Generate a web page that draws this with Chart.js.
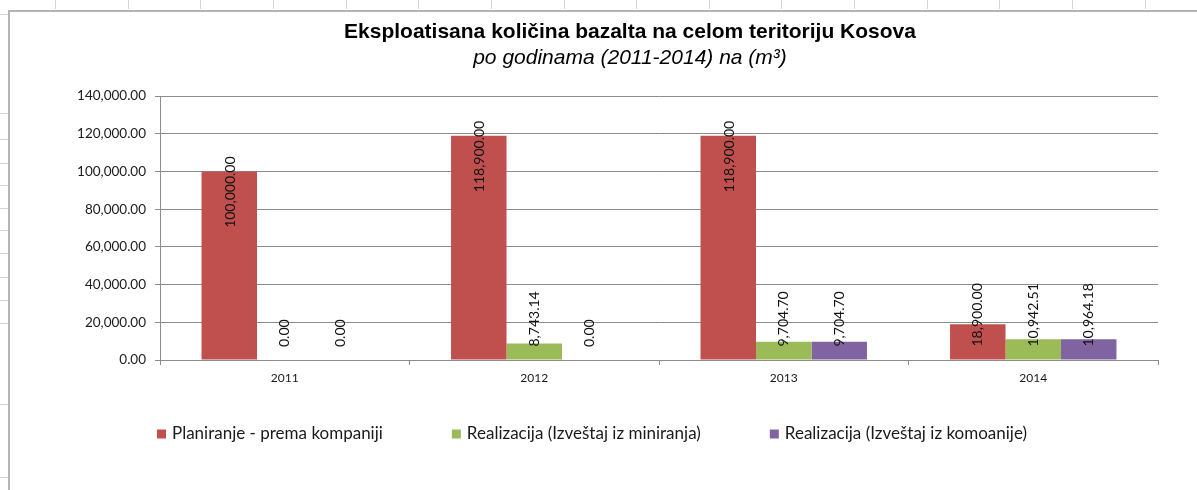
<!DOCTYPE html>
<html>
<head>
<meta charset="utf-8">
<script src="https://cdn.jsdelivr.net/npm/chart.js@4/dist/chart.umd.min.js"></script>
<style>
  html, body { margin: 0; padding: 0; background: #fff; }
  #wrap { width: 1197px; height: 490px; position: relative; }
</style>
</head>
<body>
<div id="wrap"><canvas id="c"></canvas></div>
<script>
// ---- data ----
const categories = ['2011', '2012', '2013', '2014'];
const planiranje = [100000.00, 118900.00, 118900.00, 18900.00];
const realizacijaMiniranje = [0.00, 8743.14, 9704.70, 10942.51];
const realizacijaKomoanije = [0.00, 0.00, 9704.70, 10964.18];
const seriesNames = [
  'Planiranje - prema kompaniji',
  'Realizacija (Izveštaj iz miniranja)',
  'Realizacija (Izveštaj iz komoanije)'
];
const seriesColors = ['#C0504D', '#9BBB59', '#8064A2'];
const yMax = 140000;
const yStep = 20000;
const titleText = 'Eksploatisana količina bazalta na celom teritoriju Kosova';
const subtitleText = 'po godinama (2011-2014) na (m³)';

const fmt = v => v.toLocaleString('en-US', { minimumFractionDigits: 2, maximumFractionDigits: 2 });
const LBL_FONT = 'Lato, "Open Sans", sans-serif';

// background frame (spreadsheet look)
const framePlugin = {
  id: 'frame',
  beforeDraw(chart) {
    const ctx = chart.ctx;
    ctx.save();
    ctx.fillStyle = '#fff';
    ctx.fillRect(0, 0, chart.width, chart.height);
    ctx.strokeStyle = '#d4d4d4';
    ctx.lineWidth = 1;
    for (let x = 55; x < chart.width; x += 72.65) {
      ctx.beginPath(); ctx.moveTo(Math.round(x) + 0.5, 0); ctx.lineTo(Math.round(x) + 0.5, 9); ctx.stroke();
    }
    [14, 113, 139, 163, 185, 208, 230, 253, 277, 300, 323, 404, 477].forEach(y => {
      ctx.beginPath(); ctx.moveTo(0, y + 0.5); ctx.lineTo(8, y + 0.5); ctx.stroke();
    });
    ctx.strokeStyle = '#b4b4b4';
    ctx.lineWidth = 2;
    ctx.beginPath();
    ctx.moveTo(9, chart.height);
    ctx.lineTo(9, 11);
    ctx.lineTo(chart.width, 11);
    ctx.stroke();
    ctx.restore();
  },
  // centre the title block over the whole chart frame like the spreadsheet does
  afterLayout(chart) {
    chart.boxes.forEach(b => {
      if (b.position === 'top' && b.options && b.options.text !== undefined) {
        b.left = 102;
      }
    });
  }
};

// rotated data labels
const labelPlugin = {
  id: 'barLabels',
  afterDatasetsDraw(chart) {
    const ctx = chart.ctx;
    ctx.save();
    ctx.font = '14px ' + LBL_FONT;
    ctx.fillStyle = '#111';
    ctx.textBaseline = 'middle';
    chart.data.datasets.forEach((ds, i) => {
      const meta = chart.getDatasetMeta(i);
      meta.data.forEach((bar, j) => {
        const txt = fmt(ds.data[j]);
        const h = bar.base - bar.y;
        ctx.save();
        if (h > 120) {
          ctx.translate(bar.x + 1, bar.y - 15);
          ctx.rotate(-Math.PI / 2);
          ctx.textAlign = 'right';
        } else {
          ctx.translate(bar.x, bar.base - 13);
          ctx.rotate(-Math.PI / 2);
          ctx.textAlign = 'left';
        }
        ctx.fillText(txt, 0, 0);
        ctx.restore();
      });
    });
    ctx.restore();
  }
};

// legend drawn from dataset labels/colors
const legendPlugin = {
  id: 'customLegend',
  afterDraw(chart) {
    const ctx = chart.ctx;
    ctx.save();
    ctx.font = '17px ' + LBL_FONT;
    ctx.textBaseline = 'middle';
    ctx.textAlign = 'left';
    let x = 157;
    const y = 434;
    chart.data.datasets.forEach(ds => {
      ctx.fillStyle = ds.backgroundColor;
      ctx.fillRect(x, y - 4.5, 9, 9);
      ctx.fillStyle = '#1a1a1a';
      ctx.fillText(ds.label, x + 15, y);
      x += 15 + ctx.measureText(ds.label).width + 69;
    });
    ctx.restore();
  }
};

const datasets = [planiranje, realizacijaMiniranje, realizacijaKomoanije].map((d, i) => ({
  label: seriesNames[i],
  data: d,
  backgroundColor: seriesColors[i],
  borderWidth: 0,
  categoryPercentage: 0.667,
  barPercentage: 1.0
}));

new Chart(document.getElementById('c'), {
  type: 'bar',
  data: { labels: categories, datasets },
  plugins: [framePlugin, labelPlugin, legendPlugin],
  options: {
    responsive: true,
    maintainAspectRatio: false,
    animation: false,
    layout: { padding: { left: 60, right: 39, top: 20, bottom: 100 } },
    plugins: {
      legend: { display: false },
      tooltip: { enabled: false },
      title: {
        display: true,
        text: titleText,
        color: '#000',
        font: { family: '"Liberation Sans", Arial, sans-serif', size: 21, weight: 'bold', lineHeight: 1.2 },
        padding: { top: 0, bottom: 0 }
      },
      subtitle: {
        display: true,
        text: subtitleText,
        color: '#000',
        font: { family: '"Liberation Sans", Arial, sans-serif', size: 21, style: 'italic', lineHeight: 1.2 },
        padding: { top: 0, bottom: 25.6 }
      }
    },
    scales: {
      x: {
        afterFit: s => { s.height = 30; },
        grid: { offset: true, drawOnChartArea: false, drawTicks: true, tickLength: 5, color: '#8c8c8c' },
        border: { display: true, color: '#8c8c8c', width: 1 },
        ticks: { color: '#1a1a1a', font: { family: LBL_FONT, size: 12 }, padding: 6 }
      },
      y: {
        min: 0,
        max: yMax,
        afterFit: s => { s.width = 100; },
        grid: { color: '#8c8c8c', lineWidth: 1, tickLength: 5 },
        border: { display: true, color: '#8c8c8c', width: 1 },
        ticks: {
          stepSize: yStep,
          color: '#1a1a1a',
          font: { family: LBL_FONT, size: 13.5 },
          padding: 9,
          callback: v => fmt(v)
        }
      }
    }
  }
});
</script>
</body>
</html>
